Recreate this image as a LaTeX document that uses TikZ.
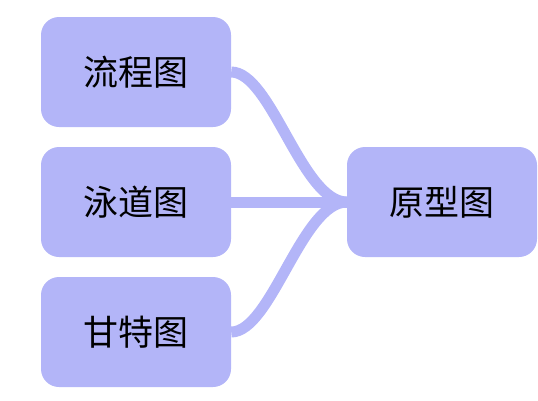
\documentclass[tikz,border=0pt]{standalone}
\usepackage{fontspec}
\newfontfamily\cjk{Noto Sans CJK SC}
\definecolor{lav}{RGB}{179,181,248}
\begin{document}
\begin{tikzpicture}[x=1pt,y=-1pt,
  box/.style={fill=lav,rounded corners=18pt,minimum width=190pt,minimum height=110pt,inner sep=0pt,font=\cjk\fontsize{35}{35}\selectfont,text=black},
  link/.style={draw=lav,line width=11pt}]
\useasboundingbox (0,0) rectangle (538,400);
\node[box] (a) at (136,72) {流程图};
\node[box] (b) at (136,202) {泳道图};
\node[box] (c) at (136,332) {甘特图};
\node[box] (d) at (442,202) {原型图};
\draw[link] (a.east) .. controls +(40,0) and +(-45,0) .. (d.west);
\draw[link] (b.east) -- (d.west);
\draw[link] (c.east) .. controls +(40,0) and +(-45,0) .. (d.west);
\end{tikzpicture}
\end{document}
